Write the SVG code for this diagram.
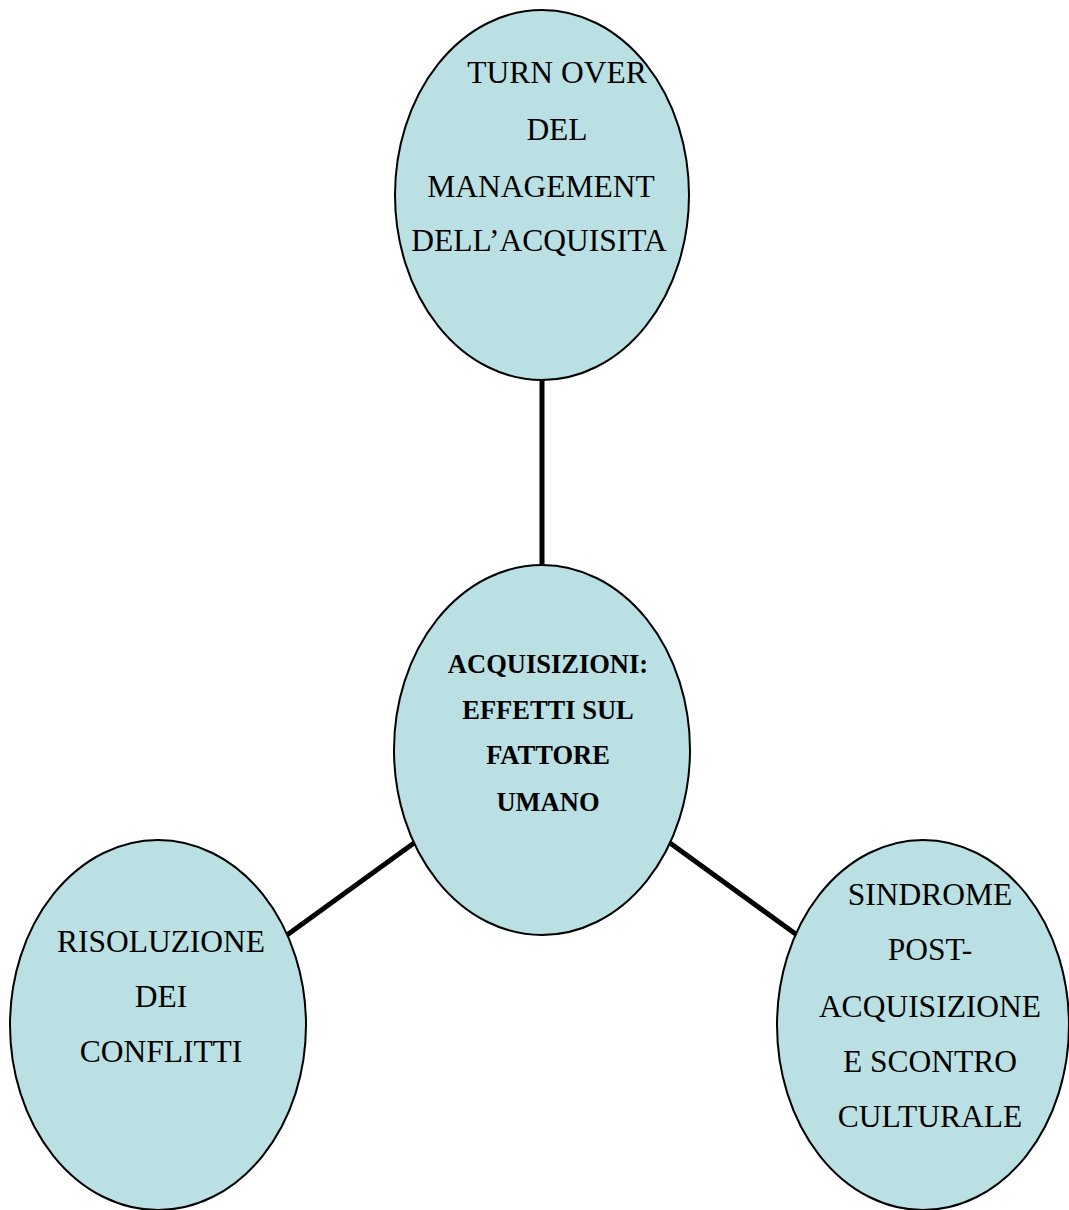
<svg xmlns="http://www.w3.org/2000/svg" width="1069" height="1210" viewBox="0 0 1069 1210">
<style>
.node ellipse{fill:#BAE0E4;stroke:#000;stroke-width:2}
.t{font-family:"Liberation Serif","Times New Roman",serif;font-size:31.5px;text-anchor:middle;fill:#000}
.b{font-family:"Liberation Serif","Times New Roman",serif;font-size:26.5px;font-weight:bold;text-anchor:middle;fill:#000}
.conn line{stroke:#000;stroke-width:5}
</style>
<rect width="1069" height="1210" fill="#fff"/>
<g id="connectors" class="conn">
<line x1="542" y1="380" x2="542" y2="566"/>
<line x1="287" y1="935" x2="414" y2="843"/>
<line x1="670" y1="843" x2="797" y2="935"/>
</g>
<g id="node-top" class="node">
<ellipse cx="542" cy="195" rx="147" ry="185"/>
<text class="t" x="557" y="83">TURN OVER</text>
<text class="t" x="557" y="140">DEL</text>
<text class="t" x="541" y="197">MANAGEMENT</text>
<text class="t" x="539" y="251">DELL’ACQUISITA</text>
</g>
<g id="node-center" class="node">
<ellipse cx="542" cy="750" rx="148" ry="185"/>
<text class="b" x="548" y="673">ACQUISIZIONI:</text>
<text class="b" x="548" y="719">EFFETTI SUL</text>
<text class="b" x="548" y="764">FATTORE</text>
<text class="b" x="548" y="811">UMANO</text>
</g>
<g id="node-left" class="node">
<ellipse cx="158" cy="1025" rx="148" ry="185"/>
<text class="t" x="161" y="952">RISOLUZIONE</text>
<text class="t" x="161" y="1007">DEI</text>
<text class="t" x="161" y="1062">CONFLITTI</text>
</g>
<g id="node-right" class="node">
<ellipse cx="923" cy="1025" rx="146" ry="185"/>
<text class="t" x="930" y="905">SINDROME</text>
<text class="t" x="930" y="960">POST-</text>
<text class="t" x="930" y="1017">ACQUISIZIONE</text>
<text class="t" x="930" y="1072">E SCONTRO</text>
<text class="t" x="930" y="1127">CULTURALE</text>
</g>
</svg>
